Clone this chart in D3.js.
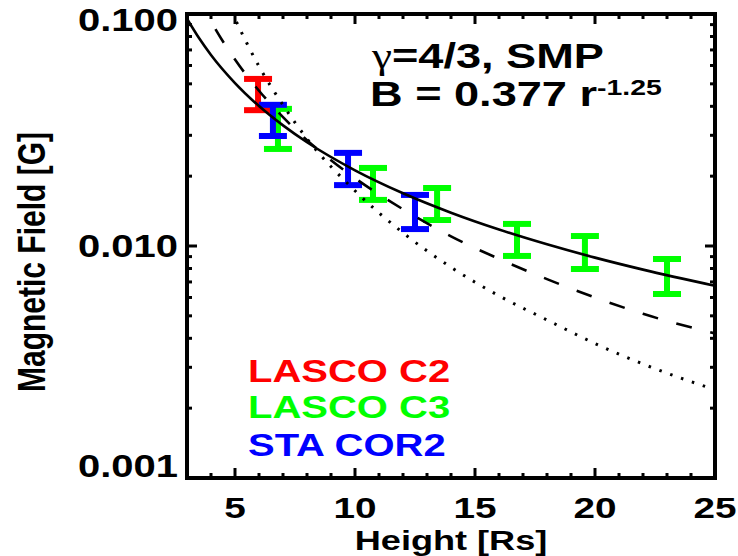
<!DOCTYPE html>
<html>
<head>
<meta charset="utf-8">
<script src="https://cdn.jsdelivr.net/npm/d3@7"></script>
<style>
  body { margin: 0; background: #fff; }
  text { font-family: "Liberation Sans", Arial, sans-serif; font-weight: bold; }
</style>
</head>
<body>
<script>
// model curves (height in Rs, field in G)
var solidHeight  = [3, 3.5, 4, 5, 6, 7, 8, 10, 12, 14, 16, 18, 20, 22, 25];
var solidField   = [0.0955, 0.0788, 0.0666, 0.0504, 0.0401, 0.0331, 0.0280, 0.0212, 0.01688, 0.01392, 0.01178, 0.01017, 0.00891, 0.00791, 0.00674];
var dashedHeight = [3.5, 4, 5, 6, 7, 8, 10, 12, 14, 16, 18, 20, 22, 25];
var dashedField  = [0.117, 0.0930, 0.0636, 0.0467, 0.0359, 0.0286, 0.0196, 0.0144, 0.0110, 0.0088, 0.0072, 0.0060, 0.0051, 0.0042];
var dottedHeight = [4.5, 5, 5.5, 6, 7, 8, 10, 12, 14, 16, 18, 20, 22, 25];
var dottedField  = [0.127, 0.0956, 0.0746, 0.0595, 0.0405, 0.0290, 0.0173, 0.0114, 0.0081, 0.0061, 0.0048, 0.0038, 0.0031, 0.0024];

// measurements with error bars
var c2Height   = [5.96];
var c2Low      = [0.0385];
var c2High     = [0.0525];
var c3Height   = [6.79, 10.75, 13.42, 16.75, 19.58, 23.0];
var c3Low      = [0.0262, 0.0158, 0.01294, 0.00906, 0.00796, 0.00621];
var c3High     = [0.0390, 0.0217, 0.01778, 0.01245, 0.01104, 0.00879];
var cor2Height = [6.58, 9.71, 12.5];
var cor2Low    = [0.0298, 0.0183, 0.01183];
var cor2High   = [0.0406, 0.0252, 0.0166];

var xMajor = [5, 10, 15, 20, 25];
var yMajor = [0.001, 0.01, 0.1];
var yLabels = ["0.001", "0.010", "0.100"];
var legendNames = ["LASCO C2", "LASCO C3", "STA COR2"];
var legendColors = ["#ff0000", "#00ff00", "#0000ff"];

var width = 738,
    height = 556,
    stretch = 1.29;   // the figure's lettering is wide

var frame = {left: 187, right: 715, top: 14, bottom: 478};

var x = d3.scaleLinear().domain([3, 25]).range([frame.left, frame.right]);
var y = d3.scaleLog().domain([0.001, 0.1]).range([frame.bottom, frame.top]);

var svg = d3.select("body").append("svg")
    .attr("width", width)
    .attr("height", height);

svg.append("rect").attr("width", width).attr("height", height).attr("fill", "#fff");

svg.append("clipPath").attr("id", "plot")
  .append("rect")
    .attr("x", frame.left).attr("y", frame.top)
    .attr("width", frame.right - frame.left).attr("height", frame.bottom - frame.top);

function label(str, px, py, size, anchor, color) {
  return svg.append("text")
      .attr("transform", "translate(" + px + "," + py + ") scale(" + stretch + ",1)")
      .attr("text-anchor", anchor)
      .attr("font-size", size)
      .attr("fill", color || "#000")
      .text(str);
}

// error bars
function bars(hs, lows, highs, color) {
  var g = svg.append("g").attr("stroke", color).attr("stroke-width", 6);
  hs.forEach(function(h, i) {
    var cx = x(h);
    g.append("line").attr("x1", cx).attr("x2", cx).attr("y1", y(highs[i])).attr("y2", y(lows[i]));
    g.append("line").attr("x1", cx - 14).attr("x2", cx + 14).attr("y1", y(highs[i])).attr("y2", y(highs[i]));
    g.append("line").attr("x1", cx - 14).attr("x2", cx + 14).attr("y1", y(lows[i])).attr("y2", y(lows[i]));
  });
}
bars(c3Height, c3Low, c3High, "#00ff00");
bars(c2Height, c2Low, c2High, "#ff0000");
bars(cor2Height, cor2Low, cor2High, "#0000ff");

// curves
var line = d3.line()
    .x(function(d) { return x(d[0]); })
    .y(function(d) { return y(d[1]); })
    .curve(d3.curveMonotoneX);

var curves = svg.append("g").attr("clip-path", "url(#plot)")
    .attr("fill", "none").attr("stroke", "#000");

curves.append("path")
    .attr("d", line(d3.zip(solidHeight, solidField)))
    .attr("stroke-width", 2.6);
curves.append("path")
    .attr("d", line(d3.zip(dashedHeight, dashedField)))
    .attr("stroke-width", 2.6)
    .attr("stroke-dasharray", "16,19");
curves.append("path")
    .attr("d", line(d3.zip(dottedHeight, dottedField)))
    .attr("stroke-width", 3)
    .attr("stroke-dasharray", "2.5,9");

// frame and ticks on all four sides
var axes = svg.append("g").attr("stroke", "#000").attr("stroke-width", 3);

d3.range(4, 25, 1).forEach(function(v) {
  var len = xMajor.indexOf(v) >= 0 ? 10 : 5;
  axes.append("line").attr("x1", x(v)).attr("x2", x(v)).attr("y1", frame.bottom).attr("y2", frame.bottom - len);
  axes.append("line").attr("x1", x(v)).attr("x2", x(v)).attr("y1", frame.top).attr("y2", frame.top + len);
});

y.ticks().forEach(function(v) {
  var len = yMajor.some(function(m) { return Math.abs(m - v) < 1e-9; }) ? 10 : 5;
  axes.append("line").attr("x1", frame.left).attr("x2", frame.left + len).attr("y1", y(v)).attr("y2", y(v));
  axes.append("line").attr("x1", frame.right).attr("x2", frame.right - len).attr("y1", y(v)).attr("y2", y(v));
});

svg.append("rect")
    .attr("x", frame.left).attr("y", frame.top)
    .attr("width", frame.right - frame.left).attr("height", frame.bottom - frame.top)
    .attr("fill", "none").attr("stroke", "#000").attr("stroke-width", 4);

// tick labels
xMajor.forEach(function(v) {
  label(String(v), x(v), 518, 30, "middle");
});
yMajor.forEach(function(v, i) {
  var py = Math.min(Math.max(y(v) + 11, 31), 477);
  label(yLabels[i], 178, py, 31, "end");
});

// axis titles
label("Height [Rs]", (frame.left + frame.right) / 2, 550, 28, "middle");
svg.append("text")
    .attr("transform", "translate(45,262) rotate(-90) scale(1," + stretch + ")")
    .attr("text-anchor", "middle")
    .attr("font-size", 30)
    .text("Magnetic Field [G]");

// annotation
var t1 = label("", 372, 68, 35, "start");
t1.append("tspan").attr("font-family", "Liberation Serif").attr("font-weight", "normal").text("γ");
t1.append("tspan").text("=4/3, SMP");

var t2 = label("B = 0.377 r", 370, 106, 35, "start");
t2.append("tspan").attr("font-size", 22).attr("dy", -11).text("-1.25");

// legend
legendNames.forEach(function(name, i) {
  label(name, 248, [382, 418, 456][i], 31, "start", legendColors[i]);
});
</script>
</body>
</html>
